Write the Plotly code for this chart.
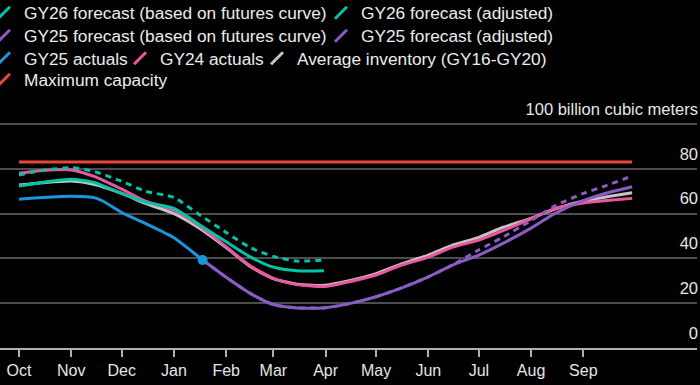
import plotly.graph_objects as go
from datetime import datetime, timedelta

# ---------------- data ----------------
semi = ["2024-10-01", "2024-10-15", "2024-11-01", "2024-11-15", "2024-12-01", "2024-12-15",
        "2025-01-01", "2025-01-15", "2025-02-01", "2025-02-15", "2025-03-01", "2025-03-15",
        "2025-04-01", "2025-04-15", "2025-05-01", "2025-05-15", "2025-06-01", "2025-06-15",
        "2025-07-01", "2025-07-15", "2025-08-01", "2025-08-15", "2025-09-01", "2025-09-15",
        "2025-09-30"]

gy26_dates = semi[:12] + ["2025-03-31"]
gy26_futures = [77.2, 79.3, 80.5, 78.7, 74.4, 70.0, 67.2, 60.1, 51.6, 44.9, 40.9, 38.8, 39.3]
gy26_adjusted = [72.3, 73.9, 75.3, 73.8, 69.0, 65.1, 62.3, 55.6, 47.4, 40.8, 36.1, 34.5, 34.5]

gy25_act_dates = ["2024-10-01", "2024-10-15", "2024-11-01", "2024-11-10", "2024-11-15",
                  "2024-11-20", "2024-12-01", "2024-12-15", "2025-01-01", "2025-01-15",
                  "2025-01-18"]
gy25_actuals = [66.4, 67.2, 67.8, 67.5, 67.0, 65.5, 60.5, 55.6, 49.2, 41.1, 39.3]

gy25_fc_dates = ["2025-01-18"] + semi[8:]
gy25_adjusted = [39.3, 31.6, 24.5, 19.4, 17.9, 18.0, 19.8, 22.9, 26.5, 31.8, 36.9,
                 41.5, 46.6, 53.5, 60.0, 65.8, 69.2, 72.0]
gy25_futures = [39.3, 31.6, 24.5, 19.4, 17.9, 18.0, 19.8, 22.9, 26.5, 31.8, 36.9,
                43.8, 49.4, 56.9, 63.4, 69.0, 72.6, 76.8]

gy24_actuals = [78.0, 79.2, 79.5, 76.5, 70.9, 65.6, 61.5, 55.0, 45.2, 36.8, 31.1, 28.3,
                27.5, 29.6, 32.6, 36.7, 40.6, 44.9, 48.2, 52.3, 57.7, 62.2, 64.7, 65.8, 66.8]
avg_inventory = [72.8, 73.8, 74.6, 73.0, 69.0, 64.6, 60.0, 54.0, 44.8, 36.5, 31.0, 28.5,
                 28.0, 30.0, 33.2, 37.2, 41.5, 45.8, 49.4, 53.8, 57.9, 62.0, 65.6, 67.5, 69.3]

cap_dates = ["2024-10-01", "2025-09-30"]
max_capacity = [83.0, 83.0]

month_ticks = ["2024-10-01", "2024-11-01", "2024-12-01", "2025-01-01", "2025-02-01",
               "2025-03-01", "2025-04-01", "2025-05-01", "2025-06-01", "2025-07-01",
               "2025-08-01", "2025-09-01"]
month_labels = ["Oct", "Nov", "Dec", "Jan", "Feb", "Mar", "Apr", "May", "Jun", "Jul", "Aug", "Sep"]
y_ticks = [0, 20, 40, 60, 80, 100]
y_labels = ["0", "20", "40", "60", "80", "100 billion cubic meters"]

# ---------------- styles ----------------
TEAL = "#00c4a6"
PURPLE = "#8a5cc4"
BLUE = "#1a97dc"
PINK = "#ea579f"
GRAY = "#c4c4c4"
RED = "#e8463a"
FONT = "Liberation Sans"
W = 3

# legend slots: (text start x px, row centre y px)
slots = {
    "legend":  (25, 13), "legend2": (362, 13),
    "legend3": (25, 36), "legend4": (362, 36),
    "legend5": (25, 58.5), "legend6": (161, 58.5), "legend7": (298, 58.5),
    "legend8": (25, 80),
}

fig = go.Figure()

def add(x, y, name, color, legend, dash="solid"):
    # data line (legend entry is drawn by a proxy with a diagonal stroke icon)
    fig.add_trace(go.Scatter(x=x, y=y, name=name, mode="lines", legendgroup=name,
                             showlegend=False,
                             line=dict(color=color, width=W, dash=dash, shape="spline", smoothing=0.6),
                             hoverinfo="skip"))
    fig.add_trace(go.Scatter(x=[None], y=[None], name=name, mode="markers", legend=legend,
                             legendgroup=name, showlegend=True, hoverinfo="skip",
                             marker=dict(symbol="line-ne", size=12, color=color,
                                         line=dict(color=color, width=3))))

add(semi, avg_inventory, "Average inventory (GY16-GY20)", GRAY, "legend7")
add(semi, gy24_actuals, "GY24 actuals", PINK, "legend6")
add(gy26_dates, gy26_adjusted, "GY26 forecast (adjusted)", TEAL, "legend2")
add(gy26_dates, gy26_futures, "GY26 forecast (based on futures curve)", TEAL, "legend", dash="6px,5px")
add(gy25_fc_dates, gy25_futures, "GY25 forecast (based on futures curve)", PURPLE, "legend3", dash="6px,5px")
add(gy25_fc_dates, gy25_adjusted, "GY25 forecast (adjusted)", PURPLE, "legend4")
add(gy25_act_dates, gy25_actuals, "GY25 actuals", BLUE, "legend5")
fig.add_trace(go.Scatter(x=gy25_act_dates[-1:], y=gy25_actuals[-1:], mode="markers",
                         marker=dict(color=BLUE, size=10), showlegend=False, hoverinfo="skip"))
add(cap_dates, max_capacity, "Maximum capacity", RED, "legend8")

# x range: plot area 697 px wide, 1.6845 px per day, Oct 1 at 19 px
PLOT_W = 697.0
ppd = 1.6845
x0 = datetime(2024, 10, 1) - timedelta(days=19 / ppd)
x1 = x0 + timedelta(days=PLOT_W / ppd)

TOP = 119.0
BOTTOM = 348.0
PLOT_H = BOTTOM - TOP
YMAX = 100 + (124 - TOP) * 100 / 224.0

def leg(tx, py):
    return dict(orientation="h", x=(tx - 41) / PLOT_W, xanchor="left",
                y=(BOTTOM - py) / PLOT_H, yanchor="middle", bgcolor="rgba(0,0,0,0)",
                font=dict(family=FONT, size=17.3, color="#ececec"),
                itemclick=False, itemdoubleclick=False, borderwidth=0)

fig.update_layout(
    width=700, height=385,
    margin=dict(l=0, r=700 - PLOT_W, t=TOP, b=385 - BOTTOM, autoexpand=False),
    paper_bgcolor="black", plot_bgcolor="black",
    font=dict(family=FONT, size=16, color="#ececec"),
    showlegend=True,
    **{k: leg(*v) for k, v in slots.items()},
    xaxis=dict(type="date", range=[x0, x1], tickvals=month_ticks, ticktext=month_labels,
               ticks="outside", ticklen=7, tickwidth=1.5, tickcolor="#b0b0b0",
               showline=True, linecolor="#b0b0b0", linewidth=1.5, showgrid=False,
               zeroline=False, tickfont=dict(size=16, color="#e6e6e6")),
    yaxis=dict(range=[0, YMAX], side="right", tickvals=y_ticks, ticktext=y_labels,
               ticklabelposition="inside", ticklabelshift=-15, ticklabeloverflow="allow",
               ticklabelstandoff=-4,
               ticks="", showgrid=True, gridcolor="#4d4d4d", gridwidth=1.5, zeroline=False,
               showline=False, tickfont=dict(size=16.5, color="#e6e6e6")),
)

fig.write_html("out.html", config={"displayModeBar": False},
               post_script="document.body.style.margin='0';document.body.style.overflow='hidden';")
